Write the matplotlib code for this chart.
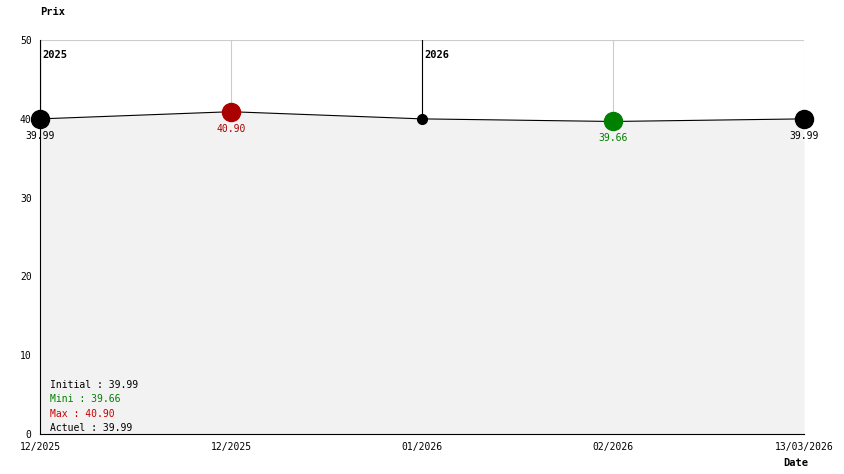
import matplotlib
matplotlib.use("Agg")
import matplotlib.pyplot as plt

dates = ["12/2025", "12/2025", "01/2026", "02/2026", "13/03/2026"]
prices = [39.99, 40.90, 39.99, 39.66, 39.99]
labels = ["39.99", "40.90", None, "39.66", "39.99"]
colors = ["black", "#aa0000", "black", "green", "black"]
sizes = [13, 13, 7, 13, 13]
years = [(0, "2025"), (2, "2026")]
legend = [("Initial : 39.99", "black"), ("Mini : 39.66", "green"),
          ("Max : 40.90", "#cc0000"), ("Actuel : 39.99", "black")]

plt.rcParams['font.family'] = ['DejaVu Sans Mono']
fig = plt.figure(figsize=(8.44, 4.74), dpi=100)
ax = fig.add_axes([40/844, 40/474, 764/844, 394/474])
x = list(range(len(prices)))
ax.set_xlim(0, 4)
ax.set_ylim(0, 50)
for xi in x:
    ax.axvline(xi, color="#cccccc", lw=0.8, zorder=1)
ax.axhline(50, color="#cccccc", lw=0.8)
for xi, t in years:
    ax.axvline(xi, color="black", lw=0.8, zorder=2)
    ax.text(xi + 0.012, 48.7, t, fontsize=7.5, fontweight="bold", va="top", ha="left")
ax.fill_between(x, prices, 0, color="#f2f2f2", zorder=2.5, lw=0)
ax.plot(x, prices, color="black", lw=0.8, zorder=3)
for xi, p, l, c, s in zip(x, prices, labels, colors, sizes):
    ax.plot(xi, p, "o", color=c, ms=s, zorder=4, clip_on=False)
    if l:
        ax.text(xi, p - 1.5, l, color=c, fontsize=7, ha="center", va="top", zorder=5)
for i, (t, c) in enumerate(legend):
    ax.text(0.05, 6.2 - i * 1.8, t, color=c, fontsize=7, va="center", zorder=5)
for s in ["top", "right"]:
    ax.spines[s].set_visible(False)
ax.spines["left"].set_zorder(6)
ax.spines["bottom"].set_zorder(6)
ax.set_xticks(x)
ax.set_xticklabels(dates, fontsize=7)
ax.set_yticks([0, 10, 20, 30, 40, 50])
ax.tick_params(labelsize=7, length=0, pad=6)
fig.text(40/844, 1 - 12/474, "Prix", fontsize=7.5, fontweight="bold", va="center")
fig.text(783/844, 1 - 463/474, "Date", fontsize=7.5, fontweight="bold", va="center")
fig.savefig("out.png", dpi=100, facecolor="white")
